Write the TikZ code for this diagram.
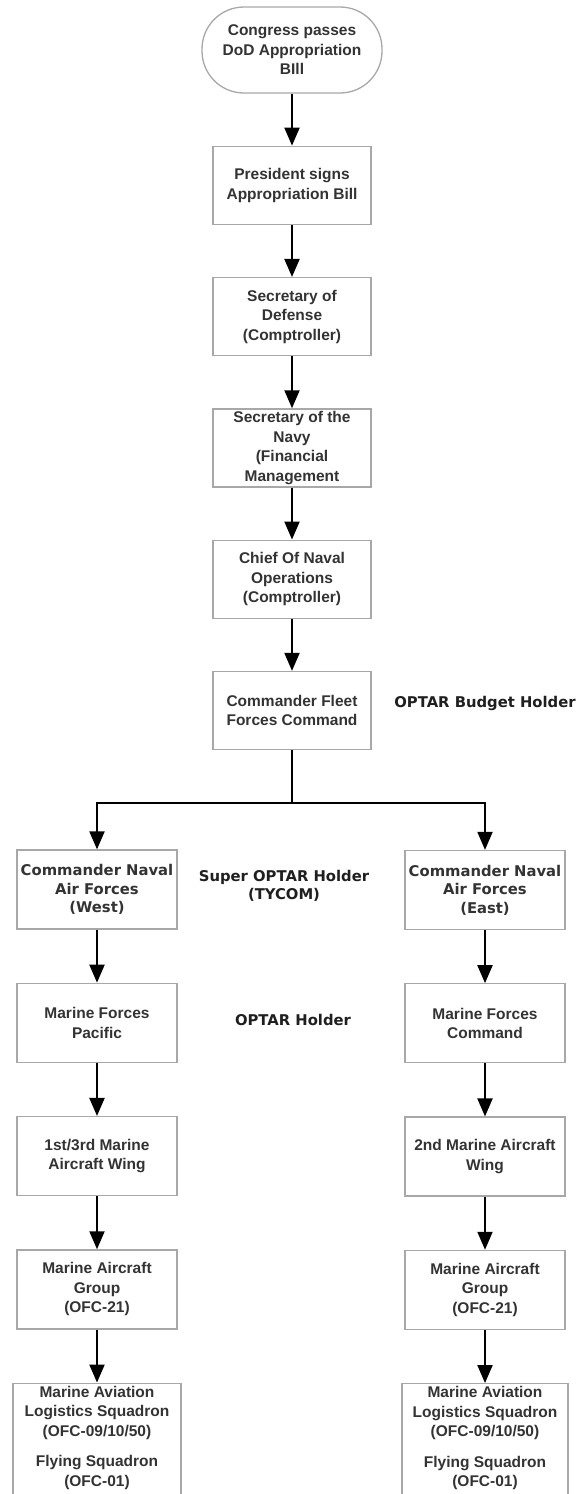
\documentclass[tikz,border=0pt]{standalone}
\usepackage{fontspec}
\setmainfont{Liberation Sans}
\newfontfamily\widefont{DejaVu Sans}
\usetikzlibrary{arrows.meta, positioning}
\definecolor{boxline}{HTML}{A8A8A8}
\definecolor{boxtext}{HTML}{333333}

\begin{document}
\begin{tikzpicture}[x=1pt, y=1pt, node distance=52pt,
		box/.style={draw=boxline, line width=1.3pt, fill=white, text=boxtext, align=center,
			minimum width=158pt, minimum height=78pt, inner sep=2pt,
			font=\fontsize{15.5}{19.5}\selectfont\bfseries},
		sidebox/.style={box, minimum width=160pt, minimum height=79pt},
		wide/.style={font=\widefont\fontsize{14.8}{18.5}\selectfont\bfseries},
		tag/.style={wide, text=black!88, align=center},
		arr/.style={-{Triangle[length=18pt, width=15pt]}, line width=2pt, black}]
		
		\fill[white] (0,0) rectangle (581,-1494);
		\useasboundingbox (0,0) rectangle (581,-1494);
		
		% Nodes
		\node[box, rounded corners=42pt, minimum width=180pt, minimum height=86pt] (congress) at (292,-50)
			{Congress passes\\DoD Appropriation\\BIll};
		\node[box, below=of congress] (president) {President signs\\Appropriation Bill};
		\node[box, below=of president] (secdef) {Secretary of\\Defense\\(Comptroller)};
		\node[box, below=of secdef] (secnav) {Secretary of the\\Navy\\(Financial\\Management};
		\node[box, below=of secnav] (cno) {Chief Of Naval\\Operations\\(Comptroller)};
		\node[box, below=of cno] (cffc) {Commander Fleet\\Forces Command};
		
		% west side
		\node[sidebox, wide] (cnafw) at (97,-889.5) {Commander Naval\\Air Forces\\(West)};
		\node[sidebox, below=53pt of cnafw] (mfp) {Marine Forces\\Pacific};
		\node[sidebox, below=53pt of mfp] (mawa) {1st/3rd Marine\\Aircraft Wing};
		\node[sidebox, below=53pt of mawa] (magw) {Marine Aircraft\\Group\\(OFC-21)};
		\node[box, below=53pt of magw, minimum width=168pt, minimum height=0pt, inner ysep=3pt, text depth=25pt] (malsw)
			{Marine Aviation\\Logistics Squadron\\(OFC-09/10/50)\\[11pt]Flying Squadron\\(OFC-01)};
		
		% east side
		\node[sidebox, wide] (cnafe) at (485,-890) {Commander Naval\\Air Forces\\(East)};
		\node[sidebox, below=53pt of cnafe] (mfc) {Marine Forces\\Command};
		\node[sidebox, below=53pt of mfc] (mawb) {2nd Marine Aircraft\\Wing};
		\node[sidebox, below=53pt of mawb] (mage) {Marine Aircraft\\Group\\(OFC-21)};
		\node[box, below=53pt of mage, minimum width=166pt, minimum height=0pt, inner ysep=3pt, text depth=25pt] (malse)
			{Marine Aviation\\Logistics Squadron\\(OFC-09/10/50)\\[11pt]Flying Squadron\\(OFC-01)};
		
		% budget levels
		\node[tag] (budget) at (485,-703) {OPTAR Budget Holder};
		\node[tag] (super) at (284,-886) {Super OPTAR Holder\\(TYCOM)};
		\node[tag] (holder) at (293,-1020) {OPTAR Holder};
		
		% Arrows
		\draw[arr] (congress) -- (president);
		\draw[arr] (president) -- (secdef);
		\draw[arr] (secdef) -- (secnav);
		\draw[arr] (secnav) -- (cno);
		\draw[arr] (cno) -- (cffc);
		
		\coordinate (split) at ([yshift=-53pt]cffc.south);
		\draw[arr] (cffc) -- (split) -| (cnafw);
		\draw[arr] (split) -| (cnafe);
		
		\draw[arr] (cnafw) -- (mfp);
		\draw[arr] (mfp) -- (mawa);
		\draw[arr] (mawa) -- (magw);
		\draw[arr] (magw) -- (malsw);
		
		\draw[arr] (cnafe) -- (mfc);
		\draw[arr] (mfc) -- (mawb);
		\draw[arr] (mawb) -- (mage);
		\draw[arr] (mage) -- (malse);
		
\end{tikzpicture}
\end{document}
